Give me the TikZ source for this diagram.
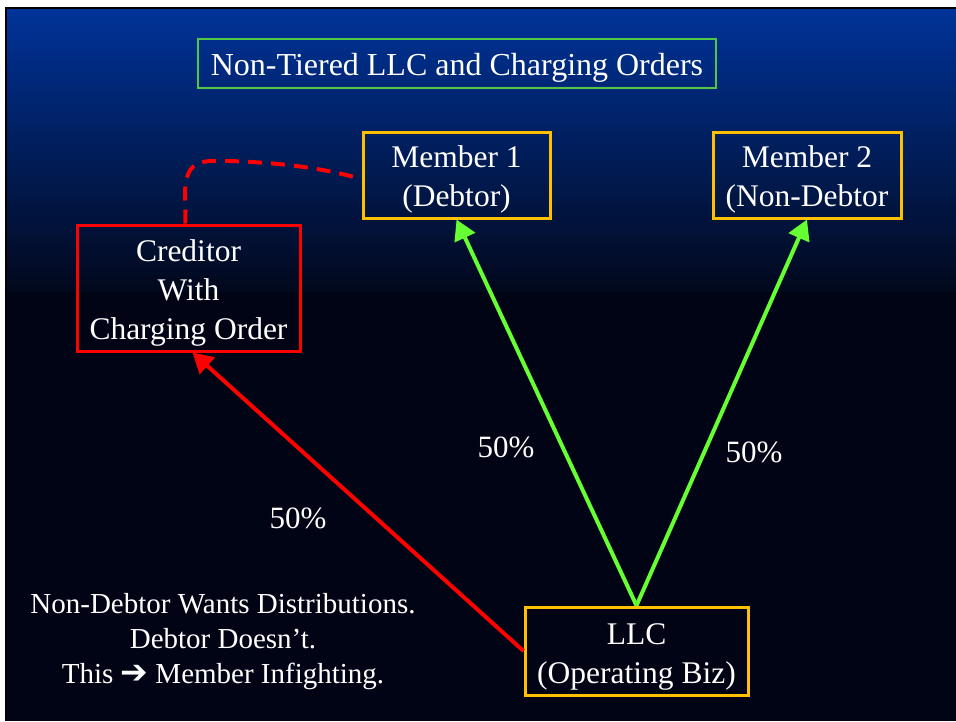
\documentclass[tikz,border=0pt]{standalone}
\usepackage{fontspec}
\setmainfont{Liberation Serif}
\newfontfamily\dejavu{DejaVu Sans}
\usetikzlibrary{arrows.meta}
\definecolor{gold}{RGB}{255,192,0}
\definecolor{titlegreen}{RGB}{80,200,70}
\definecolor{lime}{RGB}{102,255,51}
\definecolor{bgtop}{RGB}{0,51,153}
\definecolor{bgmid}{RGB}{0,36,112}
\definecolor{bgbot}{RGB}{2,8,28}
\definecolor{bgdark}{RGB}{1,4,20}
\tikzset{
  box/.style={draw=gold, line width=3pt, rectangle, inner sep=0pt},
  redbox/.style={box, draw=red},
  titlebox/.style={box, draw=titlegreen, line width=2.5pt},
  boxtext/.style={inner sep=0pt, align=center, text=white, font=\fontsize{31.5}{39}\selectfont},
  titletext/.style={inner sep=0pt, text=white, font=\fontsize{32}{38}\selectfont},
  greenarrow/.style={draw=lime, line width=4pt, -{Triangle[length=20pt,width=22pt]}},
  redarrow/.style={draw=red, line width=4pt, -{Triangle[length=20pt,width=22pt]}},
  reddash/.style={draw=red, line width=4pt, dash pattern=on 14pt off 9pt},
  pct/.style={text=white, inner sep=0pt, font=\fontsize{31}{38}\selectfont},
  note/.style={text=white, inner sep=0pt, align=center, font=\fontsize{29}{35}\selectfont}
}
\begin{document}
\begin{tikzpicture}[x=1pt,y=-1pt]
\useasboundingbox (0,0) rectangle (956,721);
\fill[white] (0,0) rectangle (956,721);
\fill[black] (5,7) rectangle (956,721);
\shade[top color=bgtop, middle color=bgmid, bottom color=bgbot] (7,9) rectangle (956,292);
\fill[bgdark] (7,292) rectangle (956,721);

\node[titlebox, minimum width=518pt, minimum height=49pt] (title) at (457,63.5) {};
\node[titletext] (titlet) at ([yshift=-4pt]title.center) {Non-Tiered LLC and Charging Orders};

\node[box, minimum width=187pt, minimum height=86pt] (m1) at (456.5,175) {};
\node[boxtext] (m1t) at ([yshift=-4pt]m1.center) {Member 1\\(Debtor)};
\node[box, minimum width=188pt, minimum height=86pt] (m2) at (807,175) {};
\node[boxtext] (m2t) at ([yshift=-4pt]m2.center) {Member 2\\(Non-Debtor};
\node[redbox, minimum width=223pt, minimum height=126pt] (cred) at (188.5,288) {};
\node[boxtext] (credt) at ([yshift=-5pt]cred.center) {Creditor\\With\\Charging Order};
\node[box, minimum width=223pt, minimum height=88pt] (llc) at (636.5,651) {};
\node[boxtext] (llct) at ([yshift=-6pt]llc.center) {LLC\\(Operating Biz)};

\draw[greenarrow] (llc.north) -- (m1.south);
\draw[greenarrow] (llc.north) -- (m2.south);
\draw[redarrow] (llc.west) -- ([xshift=4pt]cred.south);
\draw[reddash] ([xshift=-3pt]cred.north) -- (185,195) .. controls (185,160) and (200,160) .. (230,161) .. controls (290,163) and (330,170) .. ([yshift=-4pt]m1.west);

\node[pct] (p1) at (506,447) {50\%};
\node[pct] (p2) at (754,452) {50\%};
\node[pct] (p3) at (298,518) {50\%};

\node[note] (txt) at (223,642) {Non-Debtor Wants Distributions.\\Debtor Doesn’t.\\This {\dejavu\fontsize{33}{35}\selectfont ➔} Member Infighting.};
\end{tikzpicture}
\end{document}
